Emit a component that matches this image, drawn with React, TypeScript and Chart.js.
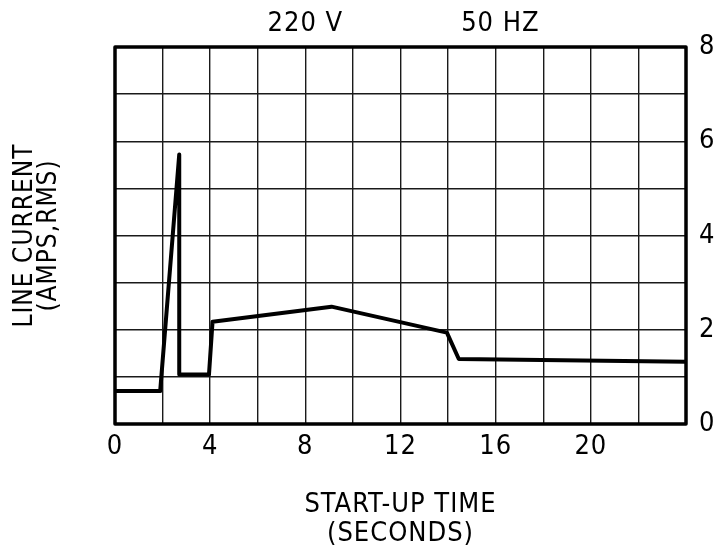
import React, { useEffect, useRef } from 'react';
import { Chart, registerables } from 'chart.js';

Chart.register(...registerables);

// ---- data ----
const timeSeconds = [0, 1.9, 2.7, 2.7, 3.95, 4.1, 9.1, 13.95, 14.45, 24];
const lineCurrentAmps = [0.7, 0.7, 5.72, 1.05, 1.05, 2.17, 2.49, 1.94, 1.38, 1.32];
const xTickLabels = [0, 4, 8, 12, 16, 20];
const yTickLabels = [0, 2, 4, 6, 8];
const headerTexts = ['220 V', '50 HZ'];
const headerAtSeconds = [8, 16.2];
const xTitle = ['START-UP TIME', '(SECONDS)'];
const yTitle = ['LINE CURRENT', '(AMPS,RMS)'];

const FONT = "'Liberation Sans Narrow', 'DejaVu Sans Condensed', 'Arial Narrow', sans-serif";

const framePlugin = {
  id: 'frameAndHeader',
  beforeDraw(chart: any) {
    try { chart.ctx.letterSpacing = '1px'; } catch (e) { /* ignore */ }
  },
  afterDraw(chart: any) {
    const { ctx, chartArea } = chart;
    const xs = chart.scales.x;
    ctx.save();
    ctx.strokeStyle = '#000';
    ctx.lineWidth = 3.5;
    ctx.lineJoin = 'round';
    ctx.strokeRect(chartArea.left, chartArea.top, chartArea.right - chartArea.left, chartArea.bottom - chartArea.top);
    ctx.fillStyle = '#000';
    ctx.font = `27px ${FONT}`;
    ctx.textAlign = 'center';
    ctx.textBaseline = 'middle';
    headerTexts.forEach((t, i) => {
      ctx.fillText(t, xs.getPixelForValue(headerAtSeconds[i]), chartArea.top - 23);
    });
    ctx.restore();
  },
};

export default function App() {
  const ref = useRef<HTMLCanvasElement | null>(null);

  useEffect(() => {
    if (!ref.current) return;
    const gridColor = '#1a1a1a';
    const chart = new Chart(ref.current, {
      type: 'line',
      data: {
        datasets: [
          {
            data: timeSeconds.map((x, i) => ({ x, y: lineCurrentAmps[i] })),
            borderColor: '#000',
            borderWidth: 4,
            pointRadius: 0,
            tension: 0,
            fill: false,
            borderJoinStyle: 'round',
            borderCapStyle: 'round',
          },
        ],
      },
      options: {
        animation: false,
        responsive: true,
        maintainAspectRatio: false,
        layout: { padding: { top: 47, left: 0, right: 0, bottom: 0 } },
        plugins: {
          legend: { display: false },
          tooltip: { enabled: false },
          title: { display: false },
        },
        scales: {
          x: {
            type: 'linear',
            position: 'bottom',
            min: 0,
            max: 24,
            ticks: {
              stepSize: 2,
              autoSkip: false,
              maxRotation: 0,
              padding: 7,
              color: '#000',
              font: { family: FONT, size: 27 },
              callback: (v: any) => (xTickLabels.includes(Number(v)) ? String(v) : ''),
            },
            grid: { color: gridColor, lineWidth: 1.4, drawTicks: false },
            border: { display: false },
            title: {
              display: true,
              text: xTitle,
              color: '#000',
              font: { family: FONT, size: 27, lineHeight: '29px' },
              padding: { top: 0, bottom: 1 },
            },
            afterFit: (s: any) => { s.height = 125; },
          },
          y: {
            type: 'linear',
            position: 'right',
            min: 0,
            max: 8,
            ticks: {
              stepSize: 1,
              padding: 13,
              color: '#000',
              font: { family: FONT, size: 27 },
              callback: (v: any) => (yTickLabels.includes(Number(v)) ? String(v) : ''),
            },
            grid: { color: gridColor, lineWidth: 1.4, drawTicks: false },
            border: { display: false },
            afterFit: (s: any) => { s.width = 30; },
          },
          yLeft: {
            type: 'linear',
            position: 'left',
            min: 0,
            max: 8,
            ticks: { display: false },
            grid: { display: false, drawTicks: false },
            border: { display: false },
            title: {
              display: true,
              text: yTitle,
              color: '#000',
              font: { family: FONT, size: 26, lineHeight: '24px' },
              padding: { top: 13, bottom: 0 },
            },
            afterFit: (s: any) => { s.width = 115; },
          },
        },
      } as any,
      plugins: [framePlugin],
    });
    return () => chart.destroy();
  }, []);

  return (
    <div style={{ position: 'fixed', left: 0, top: 0, width: 716, height: 549, background: '#fff' }}>
      <canvas ref={ref} />
    </div>
  );
}
